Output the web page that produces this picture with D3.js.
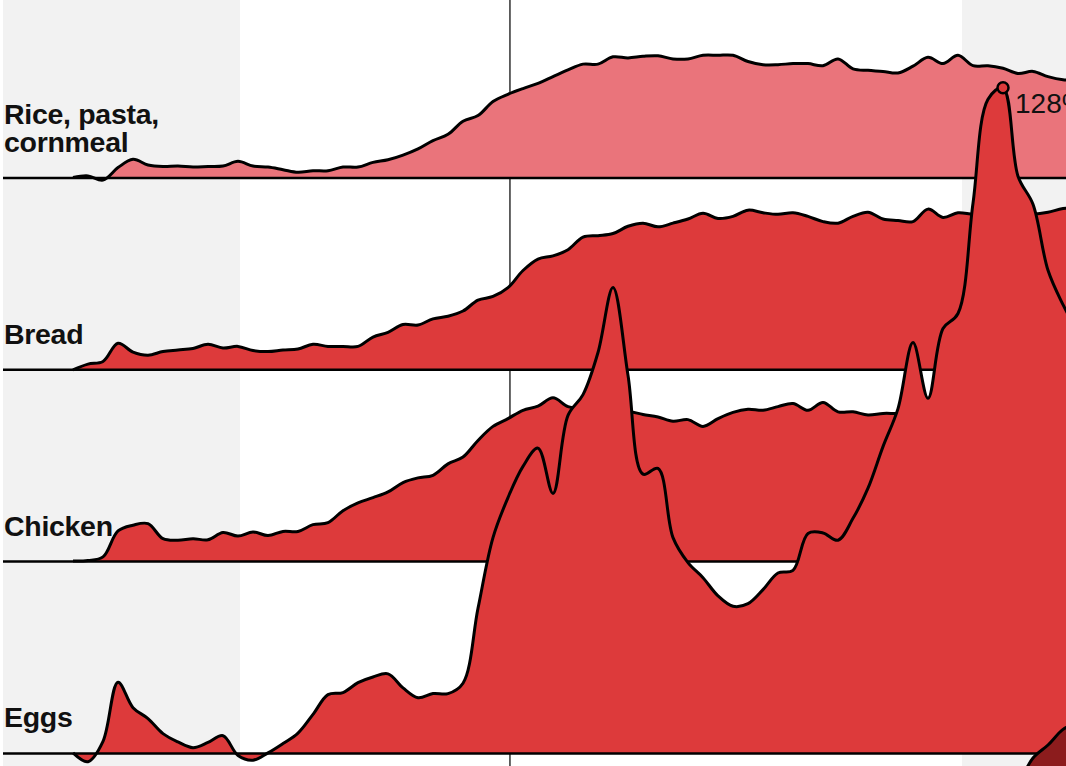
<!DOCTYPE html>
<html><head><meta charset="utf-8">
<script src="https://cdn.jsdelivr.net/npm/d3@7"></script>
<style>
html,body{margin:0;padding:0;background:#fff;}
svg{display:block;}
</style></head>
<body>
<svg id="chart" width="1066" height="766"></svg>
<script>
// ---------- DATA (percent change, monthly index) ----------
const categories = ["Rice, pasta, cornmeal", "Bread", "Chicken", "Eggs", "next"];
const labelLines = [["Rice, pasta,", "cornmeal"], ["Bread"], ["Chicken"], ["Eggs"], []];

const rice = [0.1, 0.4, -0.4, 2.0, 3.6, 2.5, 2.2, 2.3, 2.1, 2.2,
  2.3, 3.2, 2.3, 2.1, 1.6, 1.1, 1.4, 1.4, 2.1, 2.1,
  3.0, 3.5, 4.4, 5.6, 7.2, 8.4, 10.9, 12.0, 14.7, 16.1,
  17.2, 18.2, 19.5, 20.8, 21.9, 21.9, 23.3, 23.1, 23.4, 23.5,
  22.9, 22.9, 23.6, 23.6, 23.6, 22.4, 21.8, 21.8, 22.0, 22.0,
  21.6, 22.9, 21.0, 20.7, 20.5, 20.2, 21.5, 23.2, 22.0, 23.6,
  21.6, 21.6, 21.1, 20.1, 20.5, 19.5, 18.9, 18.8];

const bread = [0, 1.1, 1.6, 5.1, 3.4, 2.8, 3.5, 3.8, 4.1, 4.9,
  4.2, 4.5, 3.7, 3.5, 3.8, 4.0, 4.9, 4.5, 4.5, 4.5,
  6.3, 7.2, 8.7, 8.6, 9.8, 10.3, 11.3, 13.4, 14.1, 15.8,
  19.1, 21.3, 21.9, 23.1, 25.5, 25.8, 26.2, 27.6, 28.2, 27.5,
  28.2, 29.0, 30.1, 29.1, 29.5, 30.7, 30.2, 29.9, 30.2, 29.5,
  28.5, 28.2, 29.5, 30.3, 29.0, 28.7, 28.5, 30.9, 29.3, 30.2,
  29.9, 29.9, 29.9, 29.9, 29.9, 30.3, 31.0, 31.0];

const chicken = [0.1, 0.2, 0.9, 5.9, 7.0, 7.3, 4.4, 4.1, 4.4, 4.2,
  5.6, 4.9, 5.7, 5.0, 5.8, 5.8, 7.1, 7.5, 9.8, 11.3,
  12.3, 13.4, 15.2, 16.1, 16.6, 18.8, 20.1, 23.3, 26.0, 27.5,
  29.1, 29.9, 31.5, 29.8, 29.4, 29.2, 29.0, 28.9, 28.3, 27.8,
  27.0, 27.3, 26.0, 27.5, 28.7, 29.3, 29.1, 29.8, 30.4, 29.1,
  30.6, 28.8, 28.8, 28.2, 28.5, 28.5, 28.7, 29.0, 29.3, 29.0,
  28.8, 29.2, 29.5, 29.1, 29.6, 29.8, 30.0, 30.2];

const eggs = [0.1, -1.6, 2.3, 13.7, 8.8, 6.7, 3.8, 2.2, 1.1, 2.1,
  3.4, -0.4, -1.3, 0.1, 1.9, 3.9, 7.5, 11.3, 11.7, 13.6,
  14.7, 15.3, 12.6, 10.7, 11.5, 11.5, 13.5, 27.9, 41.5, 49.2,
  55.2, 58.7, 50.0, 65.0, 69.0, 77.1, 89.6, 72.7, 53.7, 54.8,
  41.5, 36.7, 33.8, 30.3, 28.3, 28.8, 31.5, 34.7, 35.2, 42.3,
  42.4, 41.0, 45.2, 51.0, 59.0, 66.3, 79.0, 68.3, 81.7, 84.6,
  105.8, 125.8, 128, 111.0, 105.6, 92.9, 86.3, 81.0];

// next series (only its tail is visible in this view)
const nextStart = 60;
const nextSeries = [20, 24, 27.5, 31, 36, 38.5, 41.5, 43];

const seriesValues = [rice, bread, chicken, eggs, nextSeries];
const seriesStart = [0, 0, 0, 0, nextStart];

const shadedPeriods = [[null, 11.13], [59.27, null]]; // month index ranges
const markerMonth = 29.13;
const peakSeries = 3, peakMonth = 62, peakLabel = "128%";

// ---------- STYLES ----------
const colors = ["#ea747b", "#dd3a3b", "#dd3a3b", "#dd3a3b", "#8c1c1d"];
const W = 1066, H = 766, left = 3;

const svg = d3.select("#chart");
const x = d3.scaleLinear().domain([0, 67]).range([73, 1078]);
const row = d3.scalePoint().domain(categories).range([178, 178 + 4 * 191.8]);
const h = d3.scaleLinear().domain([0, 100]).range([0, 520]);
const curve = d3.curveCatmullRom.alpha(0.5);

// shaded periods
svg.append("g").selectAll("rect").data(shadedPeriods).join("rect")
  .attr("x", d => d[0] == null ? left : x(d[0]))
  .attr("width", d => (d[1] == null ? W : x(d[1])) - (d[0] == null ? left : x(d[0])))
  .attr("y", 0).attr("height", H)
  .attr("fill", "#f2f2f2");

// vertical marker
svg.append("line")
  .attr("x1", x(markerMonth)).attr("x2", x(markerMonth))
  .attr("y1", 0).attr("y2", H)
  .attr("stroke", "#222").attr("stroke-width", 1.4);

categories.forEach((cat, i) => {
  const base = row(cat);
  const pts = seriesValues[i].map((v, j) => ({m: seriesStart[i] + j, v}));
  const g = svg.append("g");
  const area = d3.area().x(d => x(d.m)).y0(base).y1(d => base - h(d.v)).curve(curve);
  const line = d3.line().x(d => x(d.m)).y(d => base - h(d.v)).curve(curve);
  g.append("path").datum(pts).attr("d", area).attr("fill", colors[i]);
  g.append("line").attr("x1", left).attr("x2", W + 10).attr("y1", base).attr("y2", base)
    .attr("stroke", "#000").attr("stroke-width", 2.5);
  g.append("path").datum(pts).attr("d", line).attr("fill", "none")
    .attr("stroke", "#000").attr("stroke-width", 3).attr("stroke-linejoin", "round");
});

// labels (one text element per category, lines as tspans)
categories.forEach((cat, i) => {
  const base = row(cat);
  const lines = labelLines[i];
  if (!lines.length) return;
  const t = svg.append("text")
    .attr("font-family", "'Liberation Sans', Arial, Helvetica, sans-serif")
    .attr("font-weight", 700)
    .attr("font-size", 28.5)
    .attr("letter-spacing", -0.3)
    .attr("fill", "#111");
  lines.forEach((s, j) => {
    t.append("tspan")
      .attr("x", 4)
      .attr("y", base - 26 - (lines.length - 1 - j) * 28.4)
      .text(s);
  });
});

// peak annotation
const pBase = row(categories[peakSeries]);
const pv = seriesValues[peakSeries][peakMonth - seriesStart[peakSeries]];
const px = x(peakMonth), py = pBase - h(pv);
svg.append("circle").attr("cx", px).attr("cy", py).attr("r", 5.5)
  .attr("fill", colors[peakSeries]).attr("stroke", "#000").attr("stroke-width", 2.5);
svg.append("text").attr("x", px + 12).attr("y", py + 25)
  .attr("font-family", "'Liberation Sans', Arial, Helvetica, sans-serif")
  .attr("font-size", 28).attr("fill", "#111")
  .text(peakLabel);
</script>
</body></html>
